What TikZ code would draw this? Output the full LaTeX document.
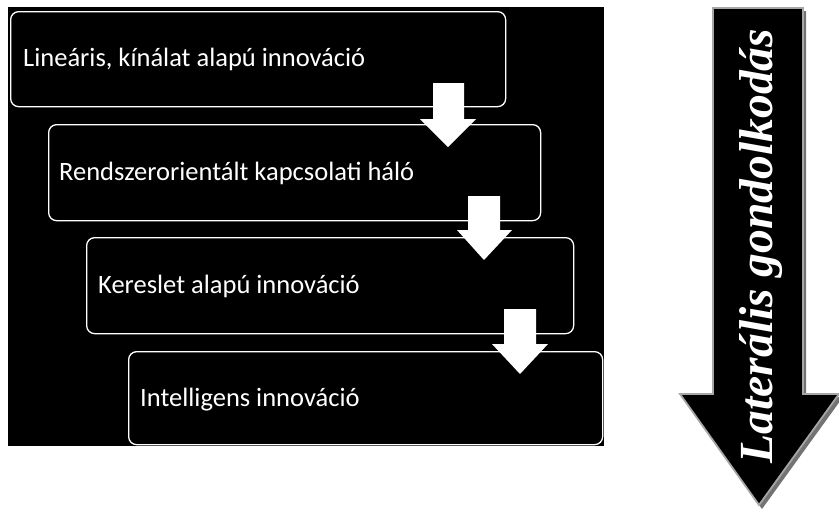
\documentclass[tikz,border=0pt]{standalone}
\usepackage{fontspec}
\setmainfont{Liberation Serif}
\newfontfamily\stagefont{Carlito}
\usetikzlibrary{calc}
\begin{document}
\begin{tikzpicture}[x=1pt,y=-1pt,
  stage/.style={draw=white, line width=1.3pt, rounded corners=8pt, fill=black,
    anchor=north west, inner sep=0pt},
  stagetext/.style={text=white, font=\stagefont\fontsize{26.5}{30}\selectfont, anchor=base west, inner sep=0pt},
  flowarrow/.style={fill=white, draw=none},
  bigarrow/.style={fill=black, draw=black!35, line width=1.8pt, line join=miter},
  bigshadow/.style={fill=black!55, draw=none}]
\useasboundingbox (0,0) rectangle (839,523);
\fill[black] (8,7) rectangle (604,446);
% stages
\node[stage, minimum width=495pt, minimum height=95pt] (b1) at (10,11) {};
\node[stage, minimum width=492pt, minimum height=96pt] (b2) at (48,124) {};
\node[stage, minimum width=487pt, minimum height=96pt] (b3) at (86,237) {};
\node[stage, minimum width=474pt, minimum height=93pt] (b4) at (128,351) {};
\node[stagetext] (t1) at ($(b1.west)+(13,7.5)$) {Lineáris, kínálat alapú innováció};
\node[stagetext] (t2) at ($(b2.west)+(11,7.5)$) {Rendszerorientált kapcsolati háló};
\node[stagetext] (t3) at ($(b3.west)+(12,7.5)$) {Kereslet alapú innováció};
\node[stagetext] (t4) at ($(b4.west)+(12,8)$) {Intelligens innováció};
% white block arrows between stages
\fill[flowarrow] (433,83) -- (464,83) -- (464,119) -- (476,119) -- (448,147) -- (420,119) -- (433,119) -- cycle;
\fill[flowarrow] (468,196) -- (500,196) -- (500,230) -- (512,230) -- (484,260) -- (457,230) -- (468,230) -- cycle;
\fill[flowarrow] (504,309) -- (536,309) -- (536,344) -- (548,344) -- (520,374) -- (492,344) -- (504,344) -- cycle;
% big lateral arrow
\fill[bigshadow] (716,11) -- (806,11) -- (806,397) -- (843,397) -- (762,509) -- (683,397) -- (716,397) -- cycle;
\draw[bigarrow] (713,8) -- (803,8) -- (803,394) -- (839,394) -- (759,505) -- (680,394) -- (713,394) -- cycle;
\node[text=white, font=\bfseries\itshape\fontsize{47.5}{52}\selectfont,
  rotate=90, anchor=base, inner sep=0pt] (lat) at (772,246) {Laterális gondolkodás};
\end{tikzpicture}
\end{document}
